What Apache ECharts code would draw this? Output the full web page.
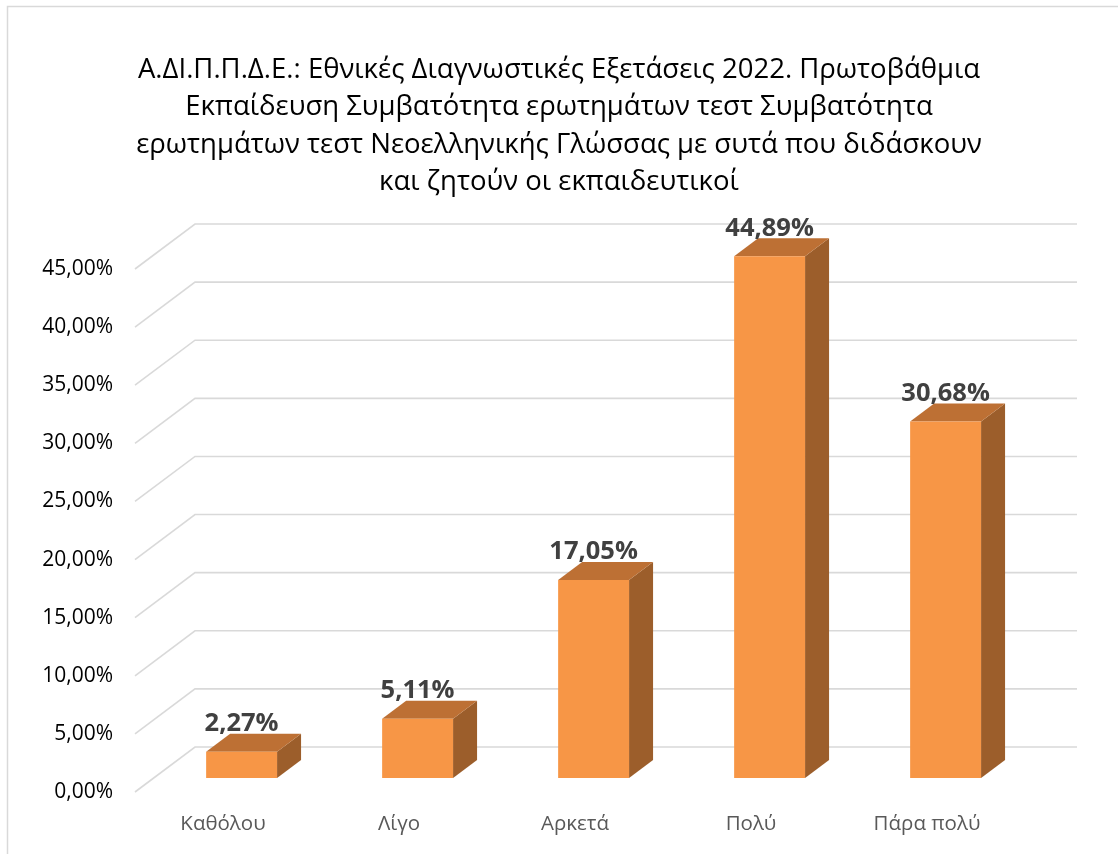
<!DOCTYPE html>
<html>
<head>
<meta charset="utf-8">
<script src="https://cdn.jsdelivr.net/npm/echarts@6/dist/echarts.min.js"></script>
<style>html,body{margin:0;padding:0;background:#fff;}#c{width:1118px;height:854px;}</style>
</head>
<body>
<div id="c"></div>
<script>
var categories = ['Καθόλου', 'Λίγο', 'Αρκετά', 'Πολύ', 'Πάρα πολύ'];
var values = [2.27, 5.11, 17.05, 44.89, 30.68];
var yTicks = [0, 5, 10, 15, 20, 25, 30, 35, 40, 45];
var titleLines = [
  'Α.ΔΙ.Π.Π.Δ.Ε.: Εθνικές Διαγνωστικές Εξετάσεις 2022. Πρωτοβάθμια',
  'Εκπαίδευση Συμβατότητα ερωτημάτων τεστ Συμβατότητα',
  'ερωτημάτων τεστ Νεοελληνικής Γλώσσας με συτά που διδάσκουν',
  'και ζητούν οι εκπαιδευτικοί'
];

var FONT = '"Open Sans", "Noto Sans", sans-serif';
var DX = 60, DY = -45;          // full depth offset (front plane -> back wall)
var F_FRONT = 0.31, F_BACK = 0.71;
function pct(v) { return v.toFixed(2).replace('.', ',') + '%'; }

var chart = echarts.init(document.getElementById('c'));
chart.setOption({
  backgroundColor: '#fff',
  animation: false,
  title: {
    text: titleLines.join('\n'),
    left: 'center',
    top: 46,
    textStyle: { fontFamily: FONT, fontSize: 27.5, fontWeight: 'normal', color: '#000', lineHeight: 37.5 }
  },
  graphic: [{
    type: 'rect', silent: true, z: -10,
    shape: { x: 7.5, y: 6.5, width: 1120, height: 860 },
    style: { fill: 'none', stroke: '#d9d9d9', lineWidth: 1.5 }
  }],
  grid: { left: 135, top: 269, width: 880, height: 523 },
  xAxis: {
    type: 'category',
    data: categories,
    axisLine: { show: false },
    axisTick: { show: false },
    axisLabel: { color: '#595959', fontSize: 20.5, fontFamily: FONT, margin: 22 }
  },
  yAxis: {
    type: 'value',
    min: 0, max: 45, interval: 5,
    axisLine: { show: false },
    axisTick: { show: false },
    splitLine: { show: false },
    axisLabel: { color: '#000', fontSize: 21, fontFamily: FONT, margin: 22, formatter: function (v) { return pct(v); } }
  },
  series: [
    {
      type: 'custom',
      z: 1,
      silent: true,
      data: yTicks.map(function (t) { return [0, t]; }),
      encode: { x: 0, y: 1 },
      renderItem: function (params, api) {
        var cs = params.coordSys;
        var y = api.coord([0, api.value(1)])[1];
        return {
          type: 'polyline',
          shape: { points: [[cs.x, y], [cs.x + DX, y + DY], [cs.x + cs.width + DX + 2, y + DY]] },
          style: { fill: 'none', stroke: '#d9d9d9', lineWidth: 1.6 }
        };
      }
    },
    {
      type: 'custom',
      z: 2,
      data: values.map(function (v, i) { return [i, v]; }),
      encode: { x: 0, y: 1 },
      renderItem: function (params, api) {
        var i = api.value(0), v = api.value(1);
        var c0 = api.coord([i, 0]);
        var c1 = api.coord([i, v]);
        var band = api.size([1, 0])[0];
        var w = band * 0.403;
        var fx = DX * F_FRONT, fy = DY * F_FRONT;
        var ddx = DX * (F_BACK - F_FRONT), ddy = DY * (F_BACK - F_FRONT);
        var x0 = c0[0] - w / 2 + fx, x1 = x0 + w;
        var yb = c0[1] + fy, yt = c1[1] + fy;
        return {
          type: 'group',
          children: [
            { type: 'polygon', shape: { points: [[x1, yt], [x1 + ddx, yt + ddy], [x1 + ddx, yb + ddy], [x1, yb]] },
              style: { fill: '#9c5e2b' } },
            { type: 'polygon', shape: { points: [[x0, yt], [x1, yt], [x1 + ddx, yt + ddy], [x0 + ddx, yt + ddy]] },
              style: { fill: '#bd7034' } },
            { type: 'rect', shape: { x: x0, y: yt, width: w, height: yb - yt },
              style: { fill: '#f79646' } },
            { type: 'text', x: x0 + w / 2, y: yt + ddy - 10,
              style: { text: pct(v), fill: '#404040', font: 'bold 25.5px ' + FONT, align: 'center', verticalAlign: 'middle' } }
          ]
        };
      }
    }
  ]
});
</script>
</body>
</html>
